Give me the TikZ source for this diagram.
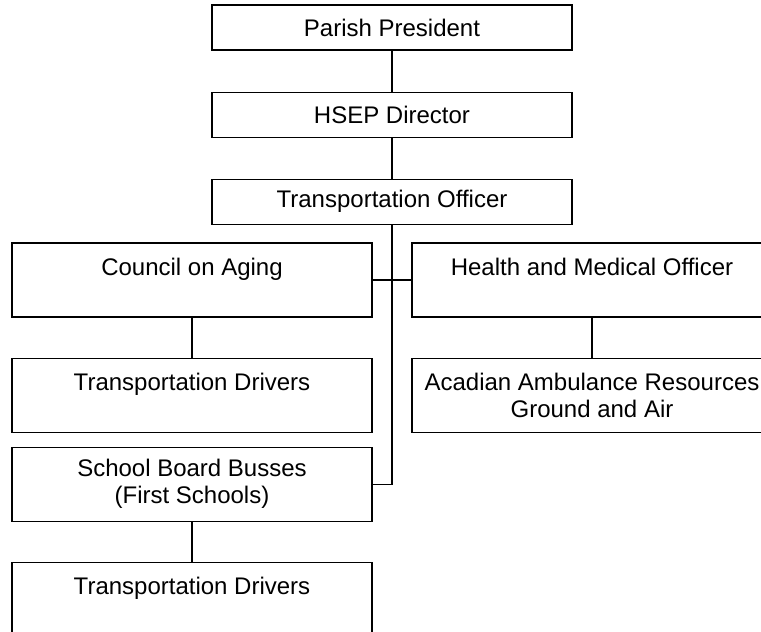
\documentclass[tikz,border=0pt]{standalone}
\usepackage{fontspec}
\setmainfont{Liberation Sans}
\usetikzlibrary{positioning}
\tikzset{
    orgbox/.style={shape=rectangle,draw,line width=1.1pt,minimum width=360pt,align=center,inner sep=0pt,font=\fontsize{24}{27}\selectfont},
    slim/.style={orgbox,minimum height=45pt},
    tall/.style={orgbox,minimum height=74pt},
    link/.style={line width=1.1pt},
  }
\begin{document}
\begin{tikzpicture}[x=1pt,y=-1pt]
    \useasboundingbox (0,0) rectangle (761,632);
    % chain of command
    \node[slim] (pres) at (392,27.5) {Parish President};
    \node[slim] (hsep) [below=41pt of pres] {HSEP Director};
    \node[slim] (officer) [below=41pt of hsep] {Transportation Officer};
    % left column
    \node[tall] (aging) at (192,280) {Council on Aging\\\mbox{}};
    \node[tall] (drivA) [below=40pt of aging] {Transportation Drivers\\\mbox{}};
    \node[tall] (school) [below=14pt of drivA] {School Board Busses\\(First Schools)};
    \node[tall] (drivB) [below=40pt of school] {Transportation Drivers\\\mbox{}};
    % right column
    \node[tall] (health) at (592,280) {Health and Medical Officer\\\mbox{}};
    \node[tall] (ambul) [below=40pt of health] {Acadian Ambulance Resources\\Ground and Air};
    % connectors
    \draw[link] (pres) -- (hsep);
    \draw[link] (hsep) -- (officer);
    \draw[link] (officer.south) |- (school.east);
    \draw[link] (aging.east) -- (health.west);
    \draw[link] (aging) -- (drivA);
    \draw[link] (school) -- (drivB);
    \draw[link] (health) -- (ambul);
\end{tikzpicture}
\end{document}
